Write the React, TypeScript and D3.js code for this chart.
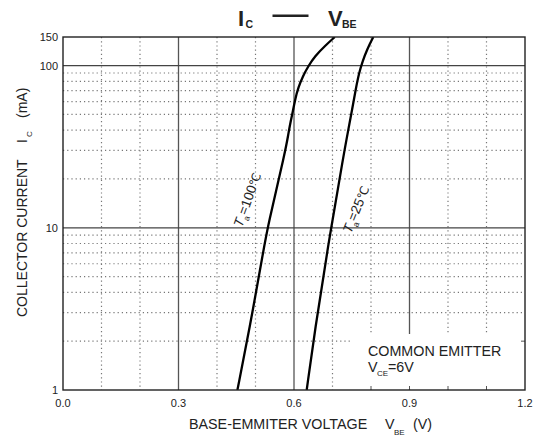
import React from "react";
import * as d3 from "d3";

const xTicks = [0, 0.3, 0.6, 0.9, 1.2];
const xTickLabels = ["0.0", "0.3", "0.6", "0.9", "1.2"];
const xMinor = [0.1, 0.2, 0.4, 0.5, 0.7, 0.8, 1.0, 1.1];
const yTicks = [1, 10, 100, 150];
const yTickLabels = ["1", "10", "100", "150"];
const yMinor = [2, 3, 4, 5, 6, 7, 8, 9, 20, 30, 40, 50, 60, 70, 80, 90];

const t100V = [0.453, 0.484, 0.521, 0.531, 0.578, 0.585, 0.591, 0.597, 0.603, 0.611, 0.623, 0.637, 0.654, 0.68, 0.706];
const t100I = [1, 2.35, 7.3, 10, 30, 37.5, 45, 52, 62, 73, 86, 99, 114, 132, 150];
const t25V = [0.633, 0.6545, 0.6865, 0.731, 0.74, 0.75, 0.761, 0.769, 0.778, 0.79, 0.806];
const t25I = [1, 2.35, 7.3, 30, 39, 52, 73, 90, 106, 126, 150];

const L = 63, R = 525, T = 37, B = 390;
const FONT = "Liberation Sans, Arial, sans-serif";
const TXT = "#222";

export default function App() {
  const x = d3.scaleLinear().domain([0, 1.2]).range([L, R]);
  const y = d3.scaleLog().domain([1, 150]).range([B, T]);
  const line = d3
    .line<[number, number]>()
    .x((d) => x(d[0]))
    .y((d) => y(d[1]))
    .curve(d3.curveBasis);
  const p100 = line(t100V.map((v, i) => [v, t100I[i]] as [number, number])) || "";
  const p25 = line(t25V.map((v, i) => [v, t25I[i]] as [number, number])) || "";

  return (
    <svg width={536} height={437} style={{ position: "absolute", left: 0, top: 0, background: "#fff" }} fontFamily={FONT}>
      <defs>
        <clipPath id="plot">
          <rect x={L} y={T} width={R - L} height={B - T} />
        </clipPath>
      </defs>
      <rect x={0} y={0} width={536} height={437} fill="#fff" />
      {/* minor dotted grid */}
      {xMinor.map((v) => (
        <line key={"xm" + v} x1={x(v)} x2={x(v)} y1={T} y2={B} stroke="#777" strokeWidth={1.2} strokeDasharray="1.2 3" />
      ))}
      {yMinor.map((v) => (
        <line key={"ym" + v} x1={L} x2={R} y1={y(v)} y2={y(v)} stroke="#777" strokeWidth={1.2} strokeDasharray="1.2 3" />
      ))}
      {/* major solid grid */}
      {[0.3, 0.6, 0.9].map((v) => (
        <line key={"xM" + v} x1={x(v)} x2={x(v)} y1={T} y2={B} stroke="#555" strokeWidth={1.3} />
      ))}
      {[10, 100].map((v) => (
        <line key={"yM" + v} x1={L} x2={R} y1={y(v)} y2={y(v)} stroke="#444" strokeWidth={1.3} />
      ))}
      {/* legend box blank area */}
      <rect x={351} y={334} width={R - 351 - 1} height={B - 334 - 1} fill="#fff" />
      {xMinor.concat([0.9]).filter((v) => x(v) > 351).map((v) => (
        <line key={"bt" + v} x1={x(v)} x2={x(v)} y1={B} y2={B - 4} stroke="#555" strokeWidth={1} />
      ))}
      <line x1={R} x2={R - 4} y1={y(2)} y2={y(2)} stroke="#555" strokeWidth={1} />
      {/* curves */}
      <g clipPath="url(#plot)">
        <path d={p100} fill="none" stroke="#000" strokeWidth={2.3} />
        <path d={p25} fill="none" stroke="#000" strokeWidth={2.3} />
      </g>
      {/* frame */}
      <rect x={L} y={T} width={R - L} height={B - T} fill="none" stroke="#222" strokeWidth={1.4} />
      {/* tick labels */}
      {xTicks.map((v, i) => (
        <text key={"xt" + v} x={x(v)} y={407} fontSize={11} textAnchor="middle" fill={TXT}>
          {xTickLabels[i]}
        </text>
      ))}
      {yTicks.map((v, i) => (
        <text key={"yt" + v} x={58} y={y(v) + 4} fontSize={11} textAnchor="end" fill={TXT}>
          {yTickLabels[i]}
        </text>
      ))}
      {/* title */}
      <text x={238} y={26} fontSize={22} fontWeight="bold" fill={TXT}>I</text>
      <text x={245.5} y={27.5} fontSize={10.5} fontWeight="bold" fill={TXT}>C</text>
      <line x1={272.5} x2={308.5} y1={15.7} y2={15.7} stroke={TXT} strokeWidth={2.6} />
      <text x={328} y={26} fontSize={22} fontWeight="bold" fill={TXT}>V</text>
      <text x={342} y={27.5} fontSize={10.5} fontWeight="bold" fill={TXT}>BE</text>
      {/* x axis title */}
      <text x={189} y={429} fontSize={14.3} fill={TXT}>BASE-EMMITER VOLTAGE</text>
      <text x={385} y={429} fontSize={14.3} fill={TXT}>V</text>
      <text x={394} y={435} fontSize={8} fill={TXT}>BE</text>
      <text x={413} y={429} fontSize={14.3} fill={TXT}>(V)</text>
      {/* y axis title */}
      <g transform="translate(27,0) rotate(-90)">
        <text x={-317} y={0} fontSize={14} fill={TXT}>COLLECTOR CURRENT</text>
        <text x={-143} y={0} fontSize={14} fill={TXT}>I</text>
        <text x={-137} y={5} fontSize={8} fill={TXT}>C</text>
        <text x={-118} y={0} fontSize={14} fill={TXT}>(mA)</text>
      </g>
      {/* curve labels */}
      <g transform="translate(242,228) rotate(-70)">
        <text x={0} y={0} fontSize={13.5} fill={TXT}>
          <tspan fontStyle="italic">T</tspan>
          <tspan fontSize={8.5} dy={4}>a</tspan>
          <tspan dy={-4}>=100</tspan>
          <tspan fontFamily="DejaVu Sans, sans-serif" fontSize={12}>℃</tspan>
        </text>
      </g>
      <g transform="translate(351,234) rotate(-68)">
        <text x={0} y={0} fontSize={13.5} fill={TXT}>
          <tspan fontStyle="italic">T</tspan>
          <tspan fontSize={8.5} dy={4}>a</tspan>
          <tspan dy={-4}>=25</tspan>
          <tspan fontFamily="DejaVu Sans, sans-serif" fontSize={12}>℃</tspan>
        </text>
      </g>
      {/* legend text */}
      <text x={368} y={356} fontSize={14.3} fill={TXT}>COMMON EMITTER</text>
      <text x={368} y={372} fontSize={14.3} fill={TXT}>V</text>
      <text x={377} y={376} fontSize={8} fill={TXT}>CE</text>
      <text x={388} y={372} fontSize={14.3} fill={TXT}>=6V</text>
    </svg>
  );
}
